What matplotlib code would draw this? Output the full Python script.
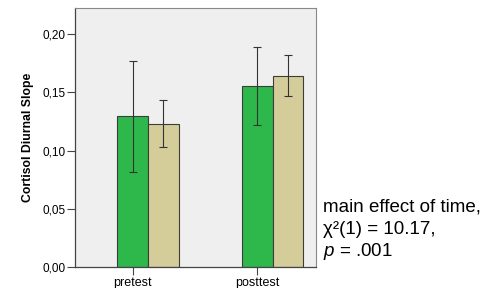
import matplotlib.pyplot as plt
import numpy as np
from matplotlib.ticker import FuncFormatter

plt.rcParams['font.family'] = ['Liberation Sans', 'DejaVu Sans']
plt.rcParams['mathtext.fontset'] = 'custom'
plt.rcParams['mathtext.it'] = 'Liberation Sans:italic'
plt.rcParams['mathtext.rm'] = 'Liberation Sans'

# Data
times = ['pretest', 'posttest']
green_means = [0.1294, 0.1556]
green_low = [0.0813, 0.1219]
green_high = [0.1771, 0.1891]
tan_means = [0.1225, 0.1639]
tan_low = [0.1027, 0.1465]
tan_high = [0.1431, 0.1817]
y_ticks = [0.00, 0.05, 0.10, 0.15, 0.20]

fig = plt.figure(figsize=(5, 2.88), dpi=100)
ax = fig.add_axes([0.15, 0.073, 0.481, 0.899])
ax.set_facecolor('#efefef')

x = np.arange(len(times))
w = 0.247
edge = '#3c3c3c'

green_err = [np.array(green_means) - np.array(green_low), np.array(green_high) - np.array(green_means)]
tan_err = [np.array(tan_means) - np.array(tan_low), np.array(tan_high) - np.array(tan_means)]

ax.bar(x, green_means, w, color='#2eb84b', edgecolor=edge, linewidth=0.8, zorder=2)
ax.bar(x + w, tan_means, w, color='#d4cc99', edgecolor=edge, linewidth=0.8, zorder=2)
ax.errorbar(x, green_means, yerr=green_err, fmt='none', ecolor='#333333', elinewidth=0.8, capsize=2.6, capthick=0.8, zorder=3)
ax.errorbar(x + w, tan_means, yerr=tan_err, fmt='none', ecolor='#333333', elinewidth=0.8, capsize=2.6, capthick=0.8, zorder=3)

ax.set_xlim(-0.463, 1.467)
ax.set_ylim(0, 0.2223)
ax.set_xticks(x)
ax.set_xticklabels(times, fontsize=9)
ax.set_yticks(y_ticks)
ax.yaxis.set_major_formatter(FuncFormatter(lambda v, p: f'{v:.2f}'.replace('.', ',')))
ax.tick_params(axis='y', labelsize=8.5, length=6, width=0.8, pad=1, color='#444444')
ax.tick_params(axis='x', length=6, width=0.8, pad=1.5, color='#444444')
ax.set_ylabel('Cortisol Diurnal Slope', fontsize=8.8, fontweight='bold', labelpad=6)

for s in ['left', 'bottom']:
    ax.spines[s].set_color('#444444')
    ax.spines[s].set_linewidth(0.9)
for s in ['top', 'right']:
    ax.spines[s].set_color('#888888')
    ax.spines[s].set_linewidth(0.8)

fig.text(0.646, 0.265, 'main effect of time,', fontsize=13.5, va='baseline')
fig.text(0.646, 0.189, 'χ²(1) = 10.17,', fontsize=13.5, va='baseline')
fig.text(0.646, 0.112, r'$p$ = .001', fontsize=13.5, va='baseline')

fig.savefig('out.png', dpi=100)
